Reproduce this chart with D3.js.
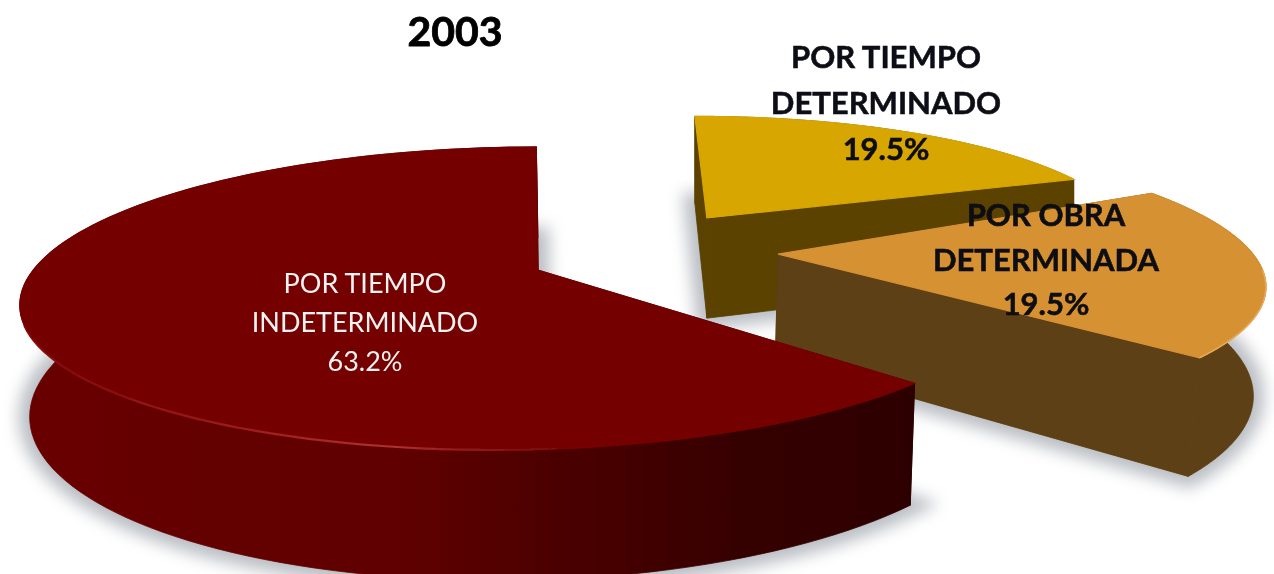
<!DOCTYPE html>
<html>
<head>
<meta charset="utf-8">
<title>2003</title>
<script src="https://cdn.jsdelivr.net/npm/d3@7"></script>
<style>
  html, body { margin: 0; background: #fff; }
  svg { display: block; }
  text { font-family: Lato, "Open Sans", sans-serif; text-anchor: middle; }
</style>
</head>
<body>
<svg id="chart"></svg>
<script>
// Values, as printed on the chart (they add up to 102.2, so the sweeps overlap a little)
const title = "2003";
const categories = ["POR TIEMPO\nINDETERMINADO", "POR TIEMPO\nDETERMINADO", "POR OBRA\nDETERMINADA"];
const values = [63.2, 19.5, 19.5];

// Colours per slice
const topColors = ["#750000", "#d7a600", "#d69131"];
const wallColors = ["url(#redWall)", "#5b4300", "#5d3f14"];
const labelColors = ["#f2f2f2", "#0a0a14", "#0a0a14"];

// Layout: where each slice was pulled to on the plane, its radii, tip inset, start angle, and label place
const explode = [[-124, 97], [74, 298], [146, 155]];
const radiusX = [505, 460, 502];
const radiusY = [515, 470, 505];
const tipInset = [[18, 5], [0, 0], [0, 4]];
const startDeg = [132.2, -0.5, 61];
const lean = [0.984, 1, 0.98];
const labelAt = [[365, 283], [886, 57], [1046, 215]];
const labelStep = [39, 46, 44.5];
const labelSize = [27, 31, 31];
const labelWeight = ["400", "700", "700"];

const width = 1274;
const height = 574;

// Camera: a point on the top plane goes through a simple perspective
const cx0 = 640, cy0 = 300, horizon = -550, tilt = 0.305;
const depth = 111;
const perspective = tilt / (cy0 - horizon);
const rad = Math.PI / 180;

function project(x, y) {
    const s = 1 / (1 + perspective * y);
    return [cx0 + x * s, cy0 - tilt * y * s];
}

// Same point on the floor of the pie, straight below the top
function drop(p, i) {
    const s = (p[1] - horizon) / (cy0 - horizon);
    return [cx0 + (p[0] - cx0) * lean[i], p[1] + depth * s];
}

const svg = d3.select("#chart").attr("width", width).attr("height", height);
const defs = svg.append("defs");

const redWall = defs.append("linearGradient").attr("id", "redWall")
    .attr("gradientUnits", "userSpaceOnUse")
    .attr("x1", 20).attr("x2", 915).attr("y1", 0).attr("y2", 0);
[[0, "#680000"], [0.42, "#600000"], [0.6, "#4c0000"], [0.8, "#360000"], [1, "#2c0000"]]
    .forEach(d => redWall.append("stop").attr("offset", d[0]).attr("stop-color", d[1]));

const rimGlow = defs.append("linearGradient").attr("id", "rimGlow")
    .attr("gradientUnits", "userSpaceOnUse")
    .attr("x1", 30).attr("x2", 640).attr("y1", 0).attr("y2", 0);
[[0, "#8a0808", 0.8], [0.6, "#b03030", 1], [1, "#800000", 0]]
    .forEach(d => rimGlow.append("stop").attr("offset", d[0]).attr("stop-color", d[1]).attr("stop-opacity", d[2]));

defs.append("filter").attr("id", "soft").attr("x", "-20%").attr("y", "-20%").attr("width", "140%").attr("height", "140%")
    .append("feGaussianBlur").attr("stdDeviation", 8);
defs.append("filter").attr("id", "edge").append("feGaussianBlur").attr("stdDeviation", 0.7);
defs.append("filter").attr("id", "smear").append("feGaussianBlur").attr("stdDeviation", 0.5);
defs.append("filter").attr("id", "smearText").append("feGaussianBlur").attr("stdDeviation", 0.6);

// One percent is 3.6 degrees (d3.pie clamps at a full turn, and these add up to more)
const sweep = d3.scaleLinear().domain([0, 100]).range([0, 2 * Math.PI]);

const line = d3.line();

// One slice: top outline and rim, already projected
const slices = values.map((v, i) => {
    const [ox, oy] = explode[i];
    const a0 = startDeg[i] * rad;
    const steps = d3.range(0, 121).map(t => a0 + sweep(v) * t / 120);
    const rim = steps.map(t => project(ox + radiusX[i] * Math.sin(t), oy + radiusY[i] * Math.cos(t)));
    const apex = project(ox + tipInset[i][0], oy + tipInset[i][1]);
    return { i, apex, rim };
});

// Floor shadow goes first, under every slice
svg.append("g").selectAll("path").data(slices).join("path")
    .attr("d", d => line([drop(d.apex, d.i), ...d.rim.map(p => drop(p, d.i))]) + "Z")
    .attr("fill", "#8f959e").attr("stroke", "#8f959e").attr("stroke-width", 22)
    .attr("opacity", 0.62).attr("filter", "url(#soft)");

// Back to front: yellow, orange, red
const order = [1, 2, 0];
const chart = svg.append("g").attr("filter", "url(#smear)");

order.forEach(k => {
    const d = slices[k];
    const first = d.rim[0], last = d.rim[d.rim.length - 1];
    const g = chart.append("g");

    // Cut faces
    [first, last].forEach(c => {
        g.append("path")
            .attr("d", line([d.apex, c, drop(c, k), drop(d.apex, k)]) + "Z")
            .attr("fill", wallColors[k])
            .attr("stroke", wallColors[k]).attr("stroke-width", 0.8);
    });

    // Outer wall
    g.append("path")
        .attr("d", line([...d.rim, ...d.rim.map(p => drop(p, k)).reverse()]) + "Z")
        .attr("fill", wallColors[k])
        .attr("stroke", wallColors[k]).attr("stroke-width", 0.8);

    // Top, stroked so the wall does not peek out round the back
    g.append("path")
        .attr("d", line([d.apex, ...d.rim]) + "Z")
        .attr("fill", topColors[k])
        .attr("stroke", topColors[k]).attr("stroke-width", 1.2);

    // Thin light edge where the top meets the wall
    if (k === 0) {
        const front = d.rim.filter(p => p[1] > 325 && p[0] < 640);
        g.append("path").attr("d", line(front))
            .attr("fill", "none").attr("stroke", "url(#rimGlow)").attr("stroke-width", 2.2)
            .attr("filter", "url(#edge)");
    }
    if (k === 2) {
        const front = d.rim.filter(p => p[1] > 270);
        g.append("path").attr("d", line(front))
            .attr("fill", "none").attr("stroke", "#e6a95a").attr("stroke-width", 1.6)
            .attr("filter", "url(#edge)");
    }
});

// Labels
const labels = svg.append("g").attr("filter", "url(#smearText)");

labels.append("text")
    .attr("x", 455).attr("y", 46)
    .attr("font-size", 41).attr("font-weight", 700)
    .attr("fill", "#050505").attr("stroke", "#050505").attr("stroke-width", 0.8)
    .text(title);

categories.forEach((c, i) => {
    const lines = [...c.split("\n"), d3.format(".1f")(values[i]) + "%"];
    lines.forEach((t, j) => {
        labels.append("text")
            .attr("x", labelAt[i][0])
            .attr("y", labelAt[i][1] + j * labelStep[i])
            .attr("dy", "0.36em")
            .attr("font-size", labelSize[i])
            .attr("font-weight", labelWeight[i])
            .attr("fill", labelColors[i])
            .attr("stroke", labelColors[i]).attr("stroke-width", i === 0 ? 0 : 0.5)
            .text(t);
    });
});
</script>
</body>
</html>
